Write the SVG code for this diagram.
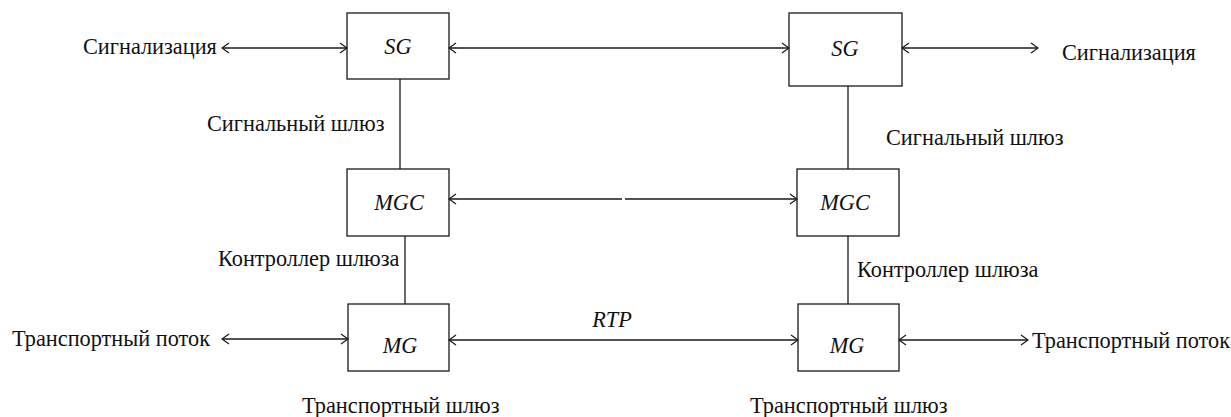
<svg xmlns="http://www.w3.org/2000/svg" width="1231" height="417" viewBox="0 0 1231 417" font-family="Liberation Serif, Times New Roman, serif">
<style>
.box{fill:#fff;stroke:#1a1a1a;stroke-width:1.3}
.ln{fill:none;stroke:#1a1a1a;stroke-width:1.3}
.t{font-family:'Liberation Serif','Times New Roman',serif;font-size:22.3px;fill:#111}
.i{font-style:italic;text-anchor:middle}
</style>
<defs>
<marker id="ah" viewBox="-9 -6 10 12" refX="0" refY="0" markerWidth="10" markerHeight="12" markerUnits="userSpaceOnUse" orient="auto-start-reverse">
<path d="M-7,-5 L0,0 L-7,5" fill="none" stroke="#1a1a1a" stroke-width="1.2"/>
</marker>
</defs>
<rect width="1231" height="417" fill="#fff"/>
<g id="sg-left"><rect class="box" x="347" y="13" width="102" height="66"/><text class="t i" x="398" y="54">SG</text></g>
<g id="sg-right"><rect class="box" x="789" y="13" width="113" height="73"/><text class="t i" x="845" y="56">SG</text></g>
<g id="mgc-left"><rect class="box" x="347" y="169" width="102" height="67"/><text class="t i" x="399" y="210">MGC</text></g>
<g id="mgc-right"><rect class="box" x="797" y="169" width="102" height="67"/><text class="t i" x="845" y="210">MGC</text></g>
<g id="mg-left"><rect class="box" x="348" y="304" width="101" height="67"/><text class="t i" x="400" y="353">MG</text></g>
<g id="mg-right"><rect class="box" x="798" y="304" width="101" height="67"/><text class="t i" x="847" y="353">MG</text></g>
<g id="connectors">
<path class="ln" d="M222,48 H347" marker-start="url(#ah)" marker-end="url(#ah)"/>
<path class="ln" d="M449,48 H789" marker-start="url(#ah)" marker-end="url(#ah)"/>
<path class="ln" d="M902,48 H1038" marker-start="url(#ah)" marker-end="url(#ah)"/>
<path class="ln" d="M449,199 H622 M625,199 H797" marker-start="url(#ah)" marker-end="url(#ah)"/>
<path class="ln" d="M222,339 H348" marker-start="url(#ah)" marker-end="url(#ah)"/>
<path class="ln" d="M449,340 H798" marker-start="url(#ah)" marker-end="url(#ah)"/>
<path class="ln" d="M899,340 H1028" marker-start="url(#ah)" marker-end="url(#ah)"/>
<path class="ln" d="M400,79 V169"/>
<path class="ln" d="M405,236 V304"/>
<path class="ln" d="M848,86 V169"/>
<path class="ln" d="M848,236 V304"/>
</g>
<g id="labels">
<text class="t" x="83" y="54">Сигнализация</text>
<text class="t" x="1062" y="60">Сигнализация</text>
<text class="t" x="207" y="131">Сигнальный шлюз</text>
<text class="t" x="886" y="145">Сигнальный шлюз</text>
<text class="t" x="218" y="266">Контроллер шлюза</text>
<text class="t" x="857" y="277">Контроллер шлюза</text>
<text class="t" x="12" y="346">Транспортный поток</text>
<text class="t" x="1032" y="348">Транспортный поток</text>
<text class="t i" x="612" y="327">RTP</text>
<text class="t" x="302" y="413">Транспортный шлюз</text>
<text class="t" x="750" y="413">Транспортный шлюз</text>
</g>
</svg>
